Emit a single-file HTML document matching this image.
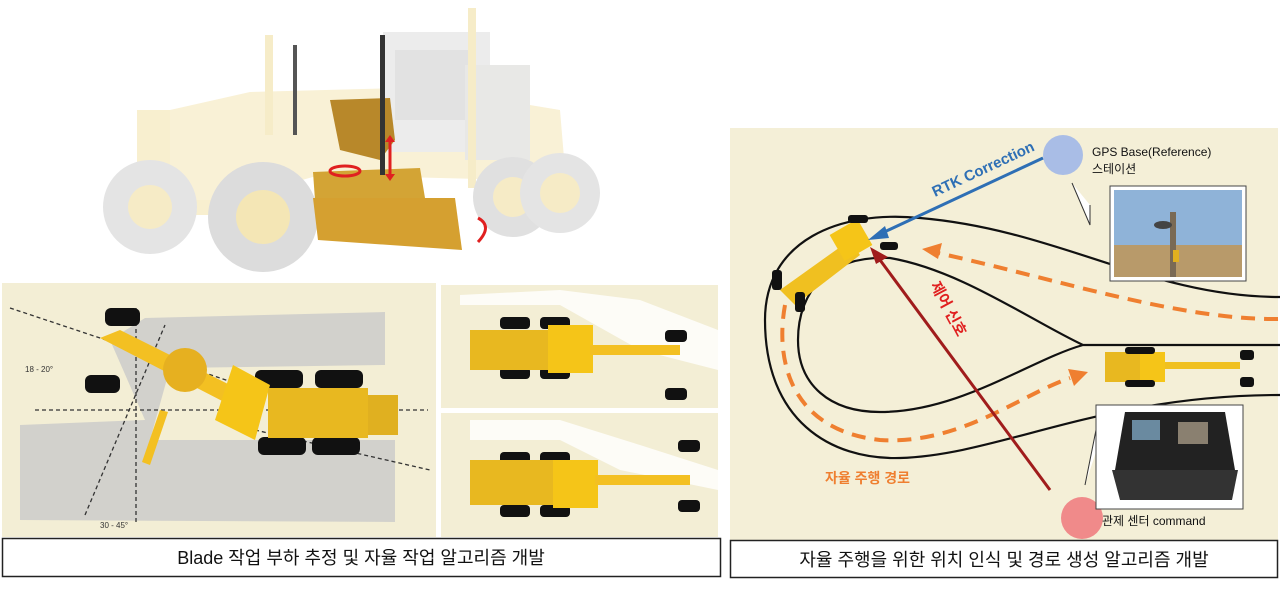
<!DOCTYPE html>
<html><head><meta charset="utf-8"><style>
body{margin:0;width:1280px;height:584px;background:#fff;overflow:hidden;font-family:"Liberation Sans","Noto Sans CJK KR",sans-serif}
</style></head><body>
<svg width="1280" height="584" viewBox="0 0 1280 584" xmlns="http://www.w3.org/2000/svg" font-family="Liberation Sans, Noto Sans CJK KR, sans-serif">
<!-- top grader (faded) -->
<g>
<rect x="137" y="110" width="90" height="105" fill="#f8efcf"/>
<polygon points="170,110 250,92 400,88 470,95 560,110 565,170 520,180 320,175 230,200 170,200" fill="#f9f1d6"/>
<rect x="383" y="32" width="107" height="120" fill="#ececec"/>
<rect x="395" y="50" width="80" height="70" fill="#e2e2e2"/>
<rect x="465" y="65" width="65" height="95" fill="#e8e8e6"/>
<rect x="468" y="8" width="8" height="180" fill="#f6ecc8"/>
<rect x="265" y="35" width="8" height="100" fill="#f6ecc8"/>
<circle cx="150" cy="207" r="47" fill="#e4e4e4"/><circle cx="150" cy="207" r="22" fill="#f6ebc6"/>
<circle cx="263" cy="217" r="55" fill="#dcdcdc"/><circle cx="263" cy="217" r="27" fill="#f4e6b5"/>
<circle cx="513" cy="197" r="40" fill="#e0e0e0"/><circle cx="513" cy="197" r="20" fill="#f6ebc6"/>
<circle cx="560" cy="193" r="40" fill="#e4e4e4"/><circle cx="560" cy="193" r="20" fill="#f6ebc6"/>
</g>
<polygon points="330,100 390,98 395,140 380,160 340,150" fill="#b8882a"/>
<polygon points="313,172 420,168 425,198 315,200" fill="#d3a435"/>
<polygon points="313,198 455,198 462,250 318,240" fill="#d5a030"/>
<rect x="380" y="35" width="5" height="140" fill="#333"/>
<rect x="293" y="45" width="4" height="90" fill="#555"/>
<line x1="390" y1="140" x2="390" y2="176" stroke="#e02020" stroke-width="3"/>
<polygon points="385,142 395,142 390,135" fill="#e02020"/><polygon points="385,174 395,174 390,181" fill="#e02020"/>
<ellipse cx="345" cy="171" rx="15" ry="5" fill="none" stroke="#e02020" stroke-width="3"/>
<path d="M478 218 q15 8 0 24" fill="none" stroke="#e02020" stroke-width="3"/>
<!-- left panels -->
<rect x="2" y="283" width="434" height="254" fill="#f3eed5"/>
<rect x="441" y="285" width="277" height="123" fill="#f3eed5"/>
<rect x="441" y="413" width="277" height="124" fill="#f3eed5"/>
<path d="M110 340 L145 318 L385 312 L385 365 L170 368 L150 440 L395 440 L395 522 L20 520 L20 425 L145 420 Z" fill="#c9c9c9" opacity="0.8"/>
<path d="M460 295 L560 290 L640 300 L718 330 L718 370 L640 350 L560 305 L460 305 Z" fill="#fff" opacity="0.8"/>
<path d="M470 420 L560 420 L640 445 L718 470 L718 490 L620 470 L560 440 L470 440 Z" fill="#fff" opacity="0.8"/>
<g stroke="#333" stroke-width="1.3" stroke-dasharray="4,3" fill="none">
<line x1="10" y1="308" x2="310" y2="408"/><line x1="136" y1="308" x2="136" y2="525"/>
<line x1="35" y1="410" x2="428" y2="410"/><line x1="85" y1="515" x2="165" y2="325"/>
<line x1="255" y1="430" x2="430" y2="470"/>
</g>
<text x="25" y="372" font-size="8" fill="#333">18 - 20°</text>
<text x="100" y="528" font-size="8" fill="#333">30 - 45°</text>
<g fill="#111">
<rect x="105" y="308" width="35" height="18" rx="6"/><rect x="85" y="375" width="35" height="18" rx="6"/>
<rect x="255" y="370" width="48" height="18" rx="6"/><rect x="315" y="370" width="48" height="18" rx="6"/>
<rect x="258" y="437" width="48" height="18" rx="6"/><rect x="312" y="437" width="48" height="18" rx="6"/>
</g>
<polygon points="100,338 120,330 240,390 230,405" fill="#f3c022"/>
<circle cx="185" cy="370" r="22" fill="#e6b020"/>
<polygon points="233,365 270,385 255,440 215,420" fill="#f5c518"/>
<rect x="268" y="388" width="100" height="50" fill="#e8b820"/>
<rect x="368" y="395" width="30" height="40" fill="#e0b020"/>
<polygon points="160,410 168,412 150,465 142,462" fill="#f3c022"/>
<g fill="#111">
<rect x="500" y="317" width="30" height="12" rx="4"/><rect x="540" y="317" width="30" height="12" rx="4"/>
<rect x="500" y="367" width="30" height="12" rx="4"/><rect x="540" y="367" width="30" height="12" rx="4"/>
<rect x="665" y="330" width="22" height="12" rx="4"/><rect x="665" y="388" width="22" height="12" rx="4"/>
<rect x="500" y="452" width="30" height="12" rx="4"/><rect x="540" y="452" width="30" height="12" rx="4"/>
<rect x="500" y="505" width="30" height="12" rx="4"/><rect x="540" y="505" width="30" height="12" rx="4"/>
<rect x="678" y="440" width="22" height="12" rx="4"/><rect x="678" y="500" width="22" height="12" rx="4"/>
</g>
<rect x="470" y="330" width="80" height="40" fill="#e8b820"/><rect x="548" y="325" width="45" height="48" fill="#f5c518"/>
<rect x="590" y="345" width="90" height="10" fill="#f3c022"/>
<rect x="470" y="460" width="85" height="45" fill="#e8b820"/><rect x="553" y="460" width="45" height="48" fill="#f5c518"/>
<rect x="595" y="475" width="95" height="10" fill="#f3c022"/>
<!-- left caption -->
<rect x="2.5" y="538.5" width="718" height="38" fill="#fff" stroke="#222" stroke-width="1.5"/>
<text x="361" y="564" font-size="18" text-anchor="middle" fill="#111">Blade 작업 부하 추정 및 자율 작업 알고리즘 개발</text>
<!-- right panel -->
<rect x="730" y="128" width="548" height="412" fill="#f4efd7"/>
<g fill="none" stroke="#111" stroke-width="2.2">
<path d="M1280 297 C1150 297 1060 230 920 218 C840 210 765 240 765 320 C765 420 830 460 900 458 C1000 455 1100 395 1280 395"/>
<path d="M1280 345 L1083 345 C1030 320 960 270 890 258 C830 255 798 290 798 340 C798 385 830 412 880 412 C960 412 1030 360 1083 345"/>
</g>
<g fill="none" stroke="#ef7f30" stroke-width="4" stroke-dasharray="14,9">
<path d="M1278 319 C1180 320 1060 280 938 253"/>
<path d="M785 305 C775 360 790 430 880 440 C960 445 1020 395 1070 378"/>
</g>
<polygon points="922,249 942,243 938,259" fill="#ef7f30"/>
<polygon points="1088,372 1068,369 1074,386" fill="#ef7f30"/>
<!-- graders on map -->
<polygon points="780,290 850,240 860,255 795,305" fill="#f0c020"/>
<rect x="835" y="225" width="32" height="30" fill="#f5c518" transform="rotate(-30 851 240)"/>
<g fill="#111"><rect x="772" y="270" width="10" height="20" rx="3"/><rect x="795" y="292" width="10" height="20" rx="3"/><rect x="848" y="215" width="20" height="8" rx="3"/><rect x="880" y="242" width="18" height="8" rx="3"/></g>
<rect x="1105" y="352" width="60" height="30" fill="#e8b820"/><rect x="1140" y="352" width="25" height="30" fill="#f5c518"/>
<rect x="1165" y="362" width="75" height="7" fill="#f0c020"/>
<g fill="#111"><rect x="1125" y="347" width="30" height="7" rx="3"/><rect x="1125" y="380" width="30" height="7" rx="3"/><rect x="1240" y="350" width="14" height="10" rx="3"/><rect x="1240" y="377" width="14" height="10" rx="3"/></g>
<!-- arrows -->
<line x1="1043" y1="158" x2="880" y2="234" stroke="#2e6fb5" stroke-width="3"/>
<polygon points="868,240 885,226 889,238" fill="#2e6fb5"/>
<line x1="1050" y1="490" x2="880" y2="260" stroke="#a01c1c" stroke-width="3"/>
<polygon points="870,247 888,257 876,264" fill="#a01c1c"/>
<circle cx="1063" cy="155" r="20" fill="#a9bde6"/>
<circle cx="1082" cy="518" r="21" fill="#f08a8a"/>
<text x="935" y="197" font-size="15" font-weight="bold" fill="#2e6fb5" transform="rotate(-25 935 197)">RTK Correction</text>
<text x="930" y="285" font-size="15" font-weight="bold" fill="#e02020" transform="rotate(62 930 285)">제어 신호</text>
<text x="825" y="483" font-size="14" font-weight="bold" fill="#ef7f30">자율 주행 경로</text>
<text x="1092" y="156" font-size="12" fill="#111">GPS Base(Reference)</text>
<text x="1092" y="173" font-size="12" fill="#111">스테이션</text>
<text x="1102" y="525" font-size="12" fill="#111">관제 센터 command</text>
<!-- photos -->
<polyline points="1072,183 1090,225 1090,205" fill="#fff" stroke="#333"/>
<rect x="1110" y="186" width="136" height="95" fill="#fff" stroke="#444"/>
<rect x="1114" y="190" width="128" height="55" fill="#8fb3d8"/>
<rect x="1114" y="245" width="128" height="32" fill="#b89a6a"/>
<rect x="1170" y="212" width="6" height="65" fill="#7a6a55"/>
<ellipse cx="1163" cy="225" rx="9" ry="4" fill="#444"/>
<rect x="1173" y="250" width="6" height="12" fill="#e0b020"/>
<polyline points="1085,485 1100,410 1100,440" fill="#fff" stroke="#333"/>
<rect x="1096" y="405" width="147" height="104" fill="#fff" stroke="#444"/>
<polygon points="1125,412 1225,412 1235,470 1115,470" fill="#222"/>
<rect x="1132" y="420" width="28" height="20" fill="#6a8aa0"/><rect x="1178" y="422" width="30" height="22" fill="#8a8070"/>
<polygon points="1112,470 1238,470 1232,500 1120,500" fill="#333"/>
<!-- right caption -->
<rect x="730.5" y="540.5" width="547" height="37" fill="#fff" stroke="#222" stroke-width="1.5"/>
<text x="1004" y="566" font-size="18" text-anchor="middle" fill="#111">자율 주행을 위한 위치 인식 및 경로 생성 알고리즘 개발</text>
</svg>
</body></html>
